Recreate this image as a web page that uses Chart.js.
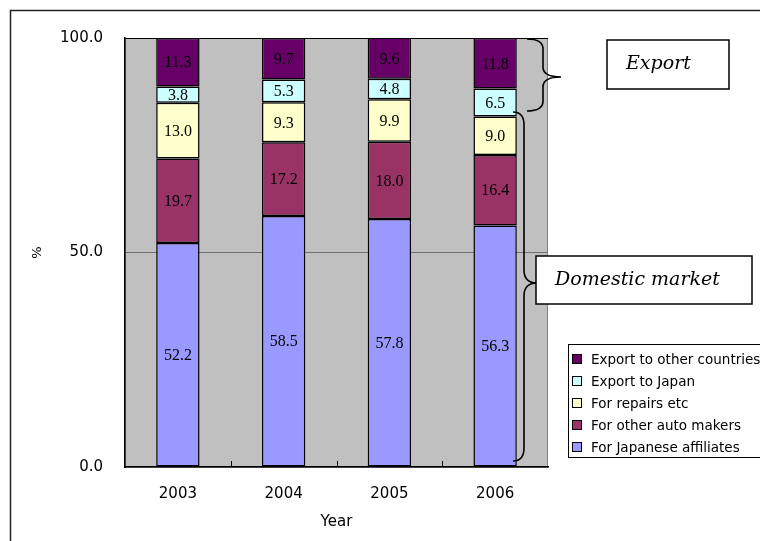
<!DOCTYPE html>
<html>
<head>
<meta charset="utf-8">
<script src="https://cdn.jsdelivr.net/npm/chart.js@4/dist/chart.umd.min.js"></script>
<style>
  html, body { margin: 0; padding: 0; background: #fff; }
  #wrap { width: 760px; height: 541px; }
</style>
</head>
<body>
<div id="wrap"><canvas id="c" width="760" height="541"></canvas></div>
<script>
// Shipment shares by destination, percent of total
const years = ['2003', '2004', '2005', '2006'];
const japaneseAffiliates = [52.2, 58.5, 57.8, 56.3];
const otherAutoMakers = [19.7, 17.2, 18.0, 16.4];
const repairs = [13.0, 9.3, 9.9, 9.0];
const exportJapan = [3.8, 5.3, 4.8, 6.5];
const exportOther = [11.3, 9.7, 9.6, 11.8];
const yTicks = [0, 50, 100];

const seriesNames = [
  'For Japanese affiliates',
  'For other auto makers',
  'For repairs etc',
  'Export to Japan',
  'Export to other countries'
];
const seriesValues = [japaneseAffiliates, otherAutoMakers, repairs, exportJapan, exportOther];
const seriesColors = ['#9999FF', '#993366', '#FFFFCC', '#CCFFFF', '#660066'];

const SANS = '"DejaVu Sans", sans-serif';

function drawBrace(ctx, x0, xMid, xTip, yTop, yMid, yBot, r) {
  ctx.beginPath();
  ctx.moveTo(x0, yTop);
  ctx.quadraticCurveTo(xMid, yTop, xMid, yTop + r);
  ctx.lineTo(xMid, yMid - r);
  ctx.quadraticCurveTo(xMid, yMid, xTip, yMid);
  ctx.quadraticCurveTo(xMid, yMid, xMid, yMid + r);
  ctx.lineTo(xMid, yBot - r);
  ctx.quadraticCurveTo(xMid, yBot, x0, yBot);
  ctx.stroke();
}

function labelBox(ctx, x, y, w, h, text) {
  ctx.fillStyle = '#fff';
  ctx.fillRect(x, y, w, h);
  ctx.strokeStyle = '#000';
  ctx.lineWidth = 1.5;
  ctx.strokeRect(x, y, w, h);
  ctx.fillStyle = '#000';
  ctx.font = 'italic 19px "DejaVu Serif", serif';
  ctx.textAlign = 'left';
  ctx.textBaseline = 'middle';
  ctx.fillText(text, x + 19, y + h / 2);
}

const decorations = {
  id: 'decorations',
  beforeDraw(chart) {
    const { ctx, chartArea: a } = chart;
    ctx.save();
    ctx.fillStyle = '#fff';
    ctx.fillRect(0, 0, chart.width, chart.height);
    // outer frame
    ctx.strokeStyle = '#222';
    ctx.lineWidth = 1.5;
    ctx.beginPath();
    ctx.moveTo(10.5, chart.height + 2);
    ctx.lineTo(10.5, 10.5);
    ctx.lineTo(chart.width + 2, 10.5);
    ctx.stroke();
    // plot area
    ctx.fillStyle = '#C0C0C0';
    ctx.fillRect(a.left, a.top, a.right - a.left, a.bottom - a.top);
    ctx.strokeStyle = '#808080';
    ctx.lineWidth = 1;
    ctx.strokeRect(a.left + 0.5, a.top + 0.5, a.right - a.left - 1, a.bottom - a.top);
    ctx.strokeStyle = '#000';
    ctx.beginPath();
    ctx.moveTo(a.left, a.top + 0.5);
    ctx.lineTo(a.right, a.top + 0.5);
    ctx.stroke();
    ctx.restore();
  },
  afterDraw(chart) {
    const { ctx, chartArea: a } = chart;
    const xs = chart.scales.x;
    ctx.save();

    // inner tick marks between categories
    ctx.strokeStyle = '#000';
    ctx.lineWidth = 1;
    for (let i = 0; i < years.length - 1; i++) {
      const xb = Math.round((xs.getPixelForValue(i) + xs.getPixelForValue(i + 1)) / 2) + 0.5;
      ctx.beginPath();
      ctx.moveTo(xb, a.bottom);
      ctx.lineTo(xb, a.bottom - 6);
      ctx.stroke();
    }

    // value labels inside each segment
    ctx.fillStyle = '#000';
    ctx.font = '16px "Liberation Serif", serif';
    ctx.textAlign = 'center';
    ctx.textBaseline = 'middle';
    chart.data.datasets.forEach((ds, di) => {
      const meta = chart.getDatasetMeta(di);
      meta.data.forEach((bar, i) => {
        const yTop = Math.max(bar.y, a.top);
        ctx.fillText(ds.data[i].toFixed(1), bar.x, (yTop + bar.base) / 2 + 1);
      });
    });

    // braces
    ctx.strokeStyle = '#000';
    ctx.lineWidth = 1.6;
    drawBrace(ctx, 527, 543, 561, 39, 77, 111, 10);
    drawBrace(ctx, 513, 524, 537, 112, 283, 461, 13);

    // annotation boxes
    labelBox(ctx, 607, 40, 122, 49, 'Export');
    labelBox(ctx, 536, 256, 216, 48, 'Domestic market');

    // legend, top series first
    const lx = 568, ly = 344, lw = 200, lh = 113;
    ctx.fillStyle = '#fff';
    ctx.fillRect(lx, ly, lw, lh);
    ctx.strokeStyle = '#000';
    ctx.lineWidth = 1;
    ctx.strokeRect(lx + 0.5, ly + 0.5, lw, lh);
    ctx.font = '13.5px ' + SANS;
    ctx.textAlign = 'left';
    ctx.textBaseline = 'middle';
    const order = chart.data.datasets.map((d, i) => i).reverse();
    order.forEach((di, row) => {
      const ds = chart.data.datasets[di];
      const cy = 359 + row * 22;
      ctx.fillStyle = ds.backgroundColor;
      ctx.fillRect(572, cy - 5, 10, 10);
      ctx.strokeStyle = '#000';
      ctx.strokeRect(572.5, cy - 4.5, 9, 9);
      ctx.fillStyle = '#000';
      ctx.fillText(ds.label, 591, cy + 1);
    });

    ctx.restore();
  }
};

new Chart(document.getElementById('c'), {
  type: 'bar',
  data: {
    labels: years,
    datasets: seriesValues.map((vals, i) => ({
      label: seriesNames[i],
      data: vals,
      backgroundColor: seriesColors[i],
      borderColor: '#000',
      borderWidth: 1.5,
      borderSkipped: false,
      categoryPercentage: 1,
      barPercentage: 0.41
    }))
  },
  options: {
    responsive: false,
    devicePixelRatio: 1,
    animation: false,
    layout: { padding: { top: 38, right: 212, left: 0, bottom: 0 } },
    plugins: { legend: { display: false }, tooltip: { enabled: false } },
    scales: {
      x: {
        stacked: true,
        grid: { display: false, drawTicks: false },
        border: { display: true, color: '#000', width: 1.5 },
        ticks: { color: '#000', font: { family: SANS, size: 15 }, padding: 18, maxRotation: 0 },
        title: { display: true, text: 'Year', color: '#000', font: { family: SANS, size: 15 }, padding: { top: 0, bottom: 10 } },
        afterFit(scale) { scale.height = 74; }
      },
      y: {
        stacked: true,
        min: 0,
        max: 100,
        afterBuildTicks(scale) { scale.ticks = yTicks.map(v => ({ value: v })); },
        grid: {
          drawTicks: false,
          color: ctx => (ctx.tick && ctx.tick.value === 50 ? '#707070' : 'rgba(0,0,0,0)'),
          lineWidth: 1
        },
        border: { display: true, color: '#000', width: 1.5 },
        ticks: {
          color: '#000',
          font: { family: SANS, size: 15 },
          padding: 22,
          callback: v => Number(v).toFixed(1)
        },
        title: { display: true, text: '%', color: '#000', font: { family: SANS, size: 13 }, padding: { top: 30, bottom: 0 } },
        afterFit(scale) { scale.width = 125; }
      }
    }
  },
  plugins: [decorations]
});
</script>
</body>
</html>
